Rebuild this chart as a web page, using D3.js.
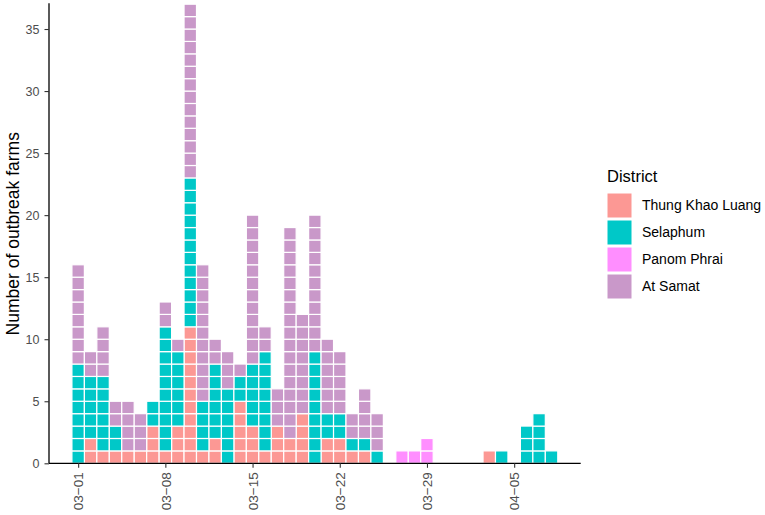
<!DOCTYPE html>
<html>
<head>
<meta charset="utf-8">
<script src="https://cdn.jsdelivr.net/npm/d3@7"></script>
<style>
  body { margin: 0; background: #fff; }
  text { font-family: "Liberation Sans", Arial, sans-serif; }
</style>
</head>
<body>
<div id="chart"></div>
<script>
// onset days (month-day), one entry per day from 03-01 to 04-08
const days = ['03-01','03-02','03-03','03-04','03-05','03-06','03-07','03-08','03-09','03-10',
              '03-11','03-12','03-13','03-14','03-15','03-16','03-17','03-18','03-19','03-20',
              '03-21','03-22','03-23','03-24','03-25','03-26','03-27','03-28','03-29','03-30',
              '03-31','04-01','04-02','04-03','04-04','04-05','04-06','04-07','04-08'];

// outbreak farms per day, by district
const thungKhaoLuang = [0,2,1,1,1,1,3,1,3,11, 1,2,0,5,3,1,3,2,4,0, 2,2,1,1,0,0,0,0,0,0, 0,0,0,1,0,0,0,0,0];
const selaphum       = [8,5,6,2,0,0,2,10,6,12, 4,6,6,2,5,8,0,0,0,9, 2,2,1,1,1,0,0,0,0,0, 0,0,0,0,1,0,3,4,1];
const panomPhrai     = [0,0,0,0,0,0,0,0,0,0, 0,0,0,0,0,0,0,0,0,0, 0,0,0,0,0,0,1,1,2,0, 0,0,0,0,0,0,0,0,0];
const atSamat        = [8,2,4,2,4,3,0,2,1,14, 11,2,3,1,12,2,3,17,8,11, 6,5,2,4,3,0,0,0,0,0, 0,0,0,0,0,0,0,0,0];

const districts = ['Thung Khao Luang', 'Selaphum', 'Panom Phrai', 'At Samat'];
const colors = ['#FC9894', '#00C8C8', '#FF8EFF', '#C998C9'];
const xTicks = ['03-01', '03-08', '03-15', '03-22', '03-29', '04-05'];
const yTicks = [0, 5, 10, 15, 20, 25, 30, 35];

const width = 765, height = 515;
const plot = { left: 49, right: 580.7, top: 4.2, bottom: 463.3 };

const parse = d3.utcParse('%Y-%m-%d');
const toDate = s => parse('2020-' + s);
const fmt = d3.utcFormat('%m-%d');
const DAY = 864e5;

const rows = days.map((d, i) => ({
  date: toDate(d),
  'Thung Khao Luang': thungKhaoLuang[i],
  'Selaphum': selaphum[i],
  'Panom Phrai': panomPhrai[i],
  'At Samat': atSamat[i]
}));

const pad = 1.84; // days of padding each side
const x = d3.scaleUtc()
  .domain([+toDate(days[0]) - (0.5 + pad) * DAY, +toDate(days[days.length - 1]) + (0.5 + pad) * DAY])
  .range([plot.left, plot.right]);

const y = d3.scaleLinear()
  .domain([0, 37])
  .range([plot.bottom, plot.top]);

const color = d3.scaleOrdinal().domain(districts).range(colors);

const svg = d3.select('#chart').append('svg')
  .attr('width', width)
  .attr('height', height);

// stack districts, then split each segment into one square per farm
const series = d3.stack().keys(districts)(rows);

const cells = [];
series.forEach(s => {
  s.forEach(seg => {
    for (let k = seg[0]; k < seg[1]; k++) {
      cells.push({ key: s.key, date: seg.data.date, k: k });
    }
  });
});

svg.append('g')
  .selectAll('rect')
  .data(cells)
  .join('rect')
  .attr('x', d => x(+d.date - 0.5 * DAY))
  .attr('width', d => x(+d.date + 0.5 * DAY) - x(+d.date - 0.5 * DAY))
  .attr('y', d => y(d.k + 1))
  .attr('height', d => y(d.k) - y(d.k + 1))
  .attr('fill', d => color(d.key))
  .attr('stroke', '#fff')
  .attr('stroke-width', 1.2);

// axes
const xAxis = d3.axisBottom(x)
  .tickValues(xTicks.map(toDate))
  .tickFormat(d => fmt(d).replace('-', '\u2212'))
  .tickSize(4.5)
  .tickPadding(3);

const gx = svg.append('g')
  .attr('transform', `translate(0,${plot.bottom})`)
  .call(xAxis);
gx.select('.domain').attr('stroke', '#000').attr('stroke-width', 1.3).attr('d', `M${plot.left},0H${plot.right}`);
gx.selectAll('.tick line').attr('stroke', '#333').attr('stroke-width', 1.1);
gx.selectAll('.tick text')
  .attr('transform', 'rotate(-90)')
  .attr('text-anchor', 'end')
  .attr('x', -9)
  .attr('y', 0)
  .attr('dy', '0.35em')
  .attr('fill', '#4d4d4d')
  .style('font-size', '13.5px');

const yAxis = d3.axisLeft(y)
  .tickValues(yTicks)
  .tickSize(4.5)
  .tickPadding(5);

const gy = svg.append('g')
  .attr('transform', `translate(${plot.left},0)`)
  .call(yAxis);
gy.select('.domain').attr('stroke', '#000').attr('stroke-width', 1.3).attr('d', `M0,${plot.top - 1}V${plot.bottom}`);
gy.selectAll('.tick line').attr('stroke', '#333').attr('stroke-width', 1.1);
gy.selectAll('.tick text')
  .attr('fill', '#4d4d4d')
  .style('font-size', '12.5px');

// y axis title
svg.append('text')
  .attr('transform', `translate(18.5,${(plot.top + plot.bottom) / 2}) rotate(-90)`)
  .attr('text-anchor', 'middle')
  .style('font-size', '17.5px')
  .attr('fill', '#000')
  .text('Number of outbreak farms');

// legend
const legend = svg.append('g').attr('transform', 'translate(607,0)');
legend.append('text')
  .attr('x', 0)
  .attr('y', 182)
  .style('font-size', '16.5px')
  .attr('fill', '#000')
  .text('District');

const item = legend.selectAll('g.item')
  .data(districts)
  .join('g')
  .attr('class', 'item')
  .attr('transform', (d, i) => `translate(0,${193 + i * 27})`);

item.append('rect')
  .attr('width', 25)
  .attr('height', 25)
  .attr('fill', d => color(d))
  .attr('stroke', '#fff')
  .attr('stroke-width', 1);

item.append('text')
  .attr('x', 35)
  .attr('y', 12.5)
  .attr('dy', '0.35em')
  .style('font-size', '14px')
  .attr('fill', '#000')
  .text(d => d);
</script>
</body>
</html>
